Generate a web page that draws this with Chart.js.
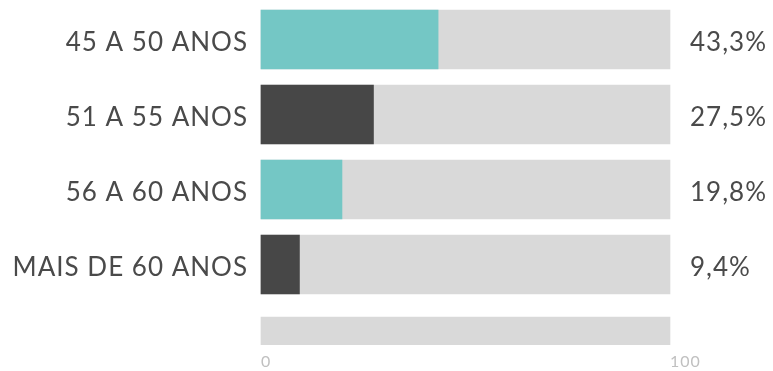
<!DOCTYPE html>
<html>
<head>
<meta charset="utf-8">
<script src="https://cdn.jsdelivr.net/npm/chart.js@4"></script>
<style>
  html, body { margin: 0; padding: 0; background: #fff; }
  #wrap { width: 773px; height: 371px; position: relative; }
</style>
</head>
<body>
<div id="wrap"><canvas id="ages"></canvas></div>
<script>
// Age groups and their share (%)
const categories = ['45 A 50 ANOS', '51 A 55 ANOS', '56 A 60 ANOS', 'MAIS DE 60 ANOS', ''];
const shares = [43.3, 27.5, 19.8, 9.4];
const trackValues = [100, 100, 100, 100];
const lastTrack = [null, null, null, null, 100];
const xTicks = [0, 100];

const teal = '#74c7c5';
const dark = '#474747';
const track = '#d9d9d9';
const labelFont = 'Lato, "Open Sans", sans-serif';

// right hand labels, e.g. 43,3%
const pctLabels = shares.map(v => v.toFixed(1).replace('.', ',') + '%');

// the category labels are drawn a little spaced out
const letterSpacing = {
    id: 'letterSpacing',
    beforeDraw(chart) { chart.ctx.letterSpacing = '1px'; }
};

// fixed side widths, and no extra room reserved for label overflow
function fixWidth(w) {
    return scale => {
        scale.width = w;
        scale.paddingTop = 0;
        scale.paddingBottom = 0;
    };
}

new Chart(document.getElementById('ages'), {
    type: 'bar',
    data: {
        labels: categories,
        datasets: [
            {
                data: shares,
                backgroundColor: shares.map((v, i) => i % 2 === 0 ? teal : dark),
                barThickness: 59,
                grouped: false,
                order: 0,
                clip: false
            },
            {
                data: trackValues,
                backgroundColor: track,
                barThickness: 59,
                grouped: false,
                order: 1,
                clip: false
            },
            {
                // bottom row is cut off at the axis
                data: lastTrack,
                backgroundColor: track,
                barThickness: 45,
                grouped: false,
                order: 1,
                clip: { left: false, top: false, right: false, bottom: 5.5 }
            }
        ]
    },
    options: {
        indexAxis: 'y',
        responsive: true,
        maintainAspectRatio: false,
        animation: false,
        layout: { padding: { top: 39.5, bottom: 0, left: 0, right: 0 } },
        plugins: {
            legend: { display: false },
            tooltip: { enabled: false }
        },
        scales: {
            x: {
                min: 0,
                max: 100,
                grid: { display: false, drawTicks: false },
                border: { display: false },
                afterBuildTicks: scale => { scale.ticks = xTicks.map(v => ({ value: v })); },
                afterFit: scale => { scale.height = 31.5; },
                ticks: {
                    color: '#c0c0c0',
                    font: { family: labelFont, size: 16 },
                    padding: 13,
                    align: 'start'
                }
            },
            y: {
                type: 'category',
                offset: false,
                grid: { display: false, drawTicks: false },
                border: { display: false },
                afterFit: fixWidth(261),
                ticks: {
                    color: '#4a4a4a',
                    font: { family: labelFont, size: 26 },
                    padding: 13,
                    labelOffset: 3
                }
            },
            y2: {
                type: 'category',
                position: 'right',
                offset: false,
                labels: categories,
                grid: { display: false, drawTicks: false },
                border: { display: false },
                afterFit: fixWidth(103),
                ticks: {
                    color: '#4a4a4a',
                    font: { family: labelFont, size: 26 },
                    padding: 20,
                    labelOffset: 3,
                    callback: (v, i) => pctLabels[i] || ''
                }
            }
        }
    },
    plugins: [letterSpacing]
});
</script>
</body>
</html>
